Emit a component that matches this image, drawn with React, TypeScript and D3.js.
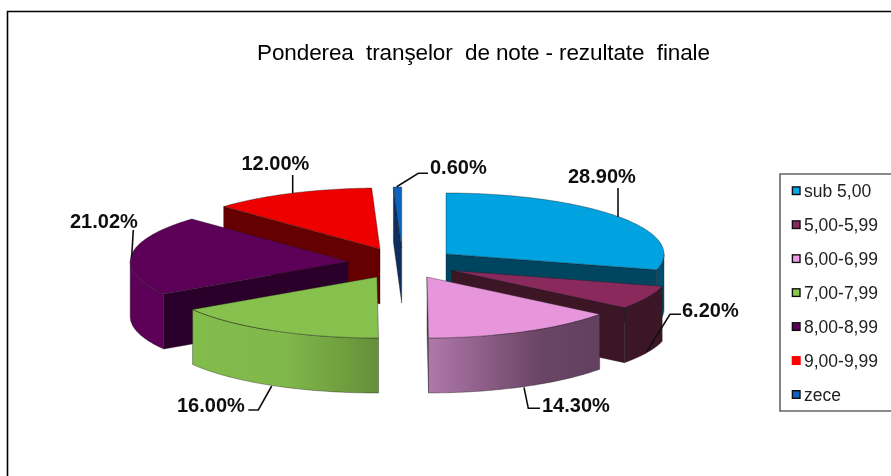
import React from "react";
import * as d3 from "d3";

const W = 891;
const H = 476;

const categories = ["sub 5,00", "5,00-5,99", "6,00-6,99", "7,00-7,99", "8,00-8,99", "9,00-9,99", "zece"];
const values = [28.9, 6.2, 14.3, 16.0, 21.02, 12.0, 0.6];
const valueLabels = ["28.90%", "6.20%", "14.30%", "16.00%", "21.02%", "12.00%", "0.60%"];

const topColors = ["#00a2e0", "#8a2a5c", "#e796dc", "#86c04d", "#5c0059", "#ee0000", "#0a62c0"];
const legendColors = ["#00a8e6", "#8a2a5c", "#f09ae4", "#8cc850", "#5c0059", "#ff0000", "#0a62c0"];
const wallColors = ["#004560", "#3d1428", "#65405f", "#69923a", "#2b0029", "#660000", "#0a2e5e"];
const rimColors = ["#00506e", "#3d1428", "url(#rimPink)", "url(#rimGreen)", "#5c0059", "#660000", "#0a2e5e"];

// explosion centres of each slice (layout)
const centres: [number, number][] = [
  [446, 254],
  [451.7, 270.5],
  [427, 277],
  [377, 277],
  [348.2, 261.5],
  [380, 249],
  [401.7, 248],
];
const RX = 218;
const RY = 61;
const DEPTH = 55;

// painter's order, back to front
const drawOrder = [5, 4, 3, 0, 1, 2, 6];

const labelPos: [number, number][] = [
  [568, 183],
  [682, 316.5],
  [542, 411.5],
  [177, 411.5],
  [70, 228],
  [241.5, 170],
  [430, 173.5],
];
const leaders: [number, number][][] = [
  [[618, 217], [618, 188]],
  [[646.7, 351.7], [670, 314.3], [681, 314.3]],
  [[524, 387.3], [528.3, 408.3], [540, 408.3]],
  [[271.7, 386], [258.3, 410], [248.3, 410]],
  [[131.7, 256.7], [133.3, 230]],
  [[292.7, 193], [292.7, 175]],
  [[396.7, 186.7], [418.3, 173.3], [428, 173.3]],
];

const legendX = d3.scalePoint<string>().domain(categories).range([190.7, 394.5]);

const pie = d3.pie<number>().sort(null).value((d) => d).startAngle(0).endAngle(2 * Math.PI);
const arcs = pie(values);

const line = d3.line<[number, number]>();

function pt(i: number, a: number, dy = 0): [number, number] {
  const [cx, cy] = centres[i];
  return [cx + RX * Math.sin(a), cy - RY * Math.cos(a) + dy];
}
function sample(a0: number, a1: number): number[] {
  const n = Math.max(2, Math.ceil(Math.abs(a1 - a0) / 0.02));
  return d3.range(n + 1).map((k) => a0 + ((a1 - a0) * k) / n);
}

function Slice({ i }: { i: number }) {
  const { startAngle: s, endAngle: e } = arcs[i];
  const c = centres[i];
  const PI = Math.PI;
  const apex: [number, number] = [c[0], c[1]];
  const apexB: [number, number] = [c[0], c[1] + DEPTH];
  const topPath = line([apex, ...sample(s, e).map((a) => pt(i, a))])! + "Z";

  const rs = Math.max(s, PI / 2);
  const re = Math.min(e, (3 * PI) / 2);
  const rim =
    re > rs
      ? line([
          ...sample(rs, re).map((a) => pt(i, a)),
          ...sample(re, rs).map((a) => pt(i, a, DEPTH)),
        ])! + "Z"
      : null;

  const cut = (a: number) => line([apex, pt(i, a), pt(i, a, DEPTH), apexB])! + "Z";
  const showStart = s > PI && s < 2 * PI;
  const showEnd = e < PI;

  const edge = { stroke: "#1a1a1a", strokeWidth: 0.5, strokeOpacity: 0.75, strokeLinejoin: "round" as const };
  return (
    <g>
      {showStart && <path d={cut(s)} fill={wallColors[i]} {...edge} />}
      {showEnd && <path d={cut(e)} fill={wallColors[i]} {...edge} />}
      {rim && <path d={rim} fill={rimColors[i]} {...edge} />}
      <path d={topPath} fill={topColors[i]} {...edge} />
    </g>
  );
}

export default function App() {
  return (
    <svg
      width={W}
      height={H}
      viewBox={`0 0 ${W} ${H}`}
      style={{ position: "absolute", left: 0, top: 0, background: "#fff" }}
      fontFamily="'Liberation Sans', Arial, sans-serif"
    >
      <defs>
        <linearGradient id="rimPink" x1="0" x2="1" y1="0" y2="0">
          <stop offset="0" stopColor="#b078aa" />
          <stop offset="0.65" stopColor="#6a4565" />
          <stop offset="1" stopColor="#624060" />
        </linearGradient>
        <linearGradient id="rimGreen" x1="0" x2="1" y1="0" y2="0">
          <stop offset="0" stopColor="#82bc4c" />
          <stop offset="0.5" stopColor="#80b84a" />
          <stop offset="1" stopColor="#668f38" />
        </linearGradient>
        <filter id="soft" x="0" y="0" width="100%" height="100%" filterUnits="userSpaceOnUse" primitiveUnits="userSpaceOnUse">
          <feGaussianBlur stdDeviation="0.35" />
        </filter>
      </defs>

      <g filter="url(#soft)">
        <rect x={0} y={0} width={W} height={H} fill="#fff" />
        <path d="M7.5 476V11.5H891" fill="none" stroke="#000" strokeWidth={1.6} />

        <text x={257} y={60} fontSize={22.5} fill="#000" style={{ whiteSpace: "pre" }} textLength={453} lengthAdjust="spacing">
          {"Ponderea  tranşelor  de note - rezultate  finale"}
        </text>

        {drawOrder.map((i) => (
          <Slice key={i} i={i} />
        ))}

        {leaders.map((l, i) => (
          <path key={i} d={line(l)!} fill="none" stroke="#111" strokeWidth={1.6} />
        ))}
        {valueLabels.map((t, i) => (
          <text key={t} x={labelPos[i][0]} y={labelPos[i][1]} fontSize={20} fontWeight="bold" fill="#111">
            {t}
          </text>
        ))}

        <path d="M891 174H780V411H891" fill="none" stroke="#666" strokeWidth={1.6} />
        {categories.map((c, i) => {
          const y = legendX(c)!;
          return (
            <g key={c}>
              <rect
                x={i === 5 ? 791.7 : 792.4}
                y={y - (i === 5 ? 4.5 : 3.8)}
                width={i === 5 ? 9 : 7.6}
                height={i === 5 ? 9 : 7.6}
                fill={legendColors[i]}
                stroke={i === 5 ? "none" : "#111"}
                strokeWidth={1.4}
              />
              <text x={804} y={y + 6} fontSize={17.5} fill="#222">
                {c}
              </text>
            </g>
          );
        })}
      </g>
    </svg>
  );
}
